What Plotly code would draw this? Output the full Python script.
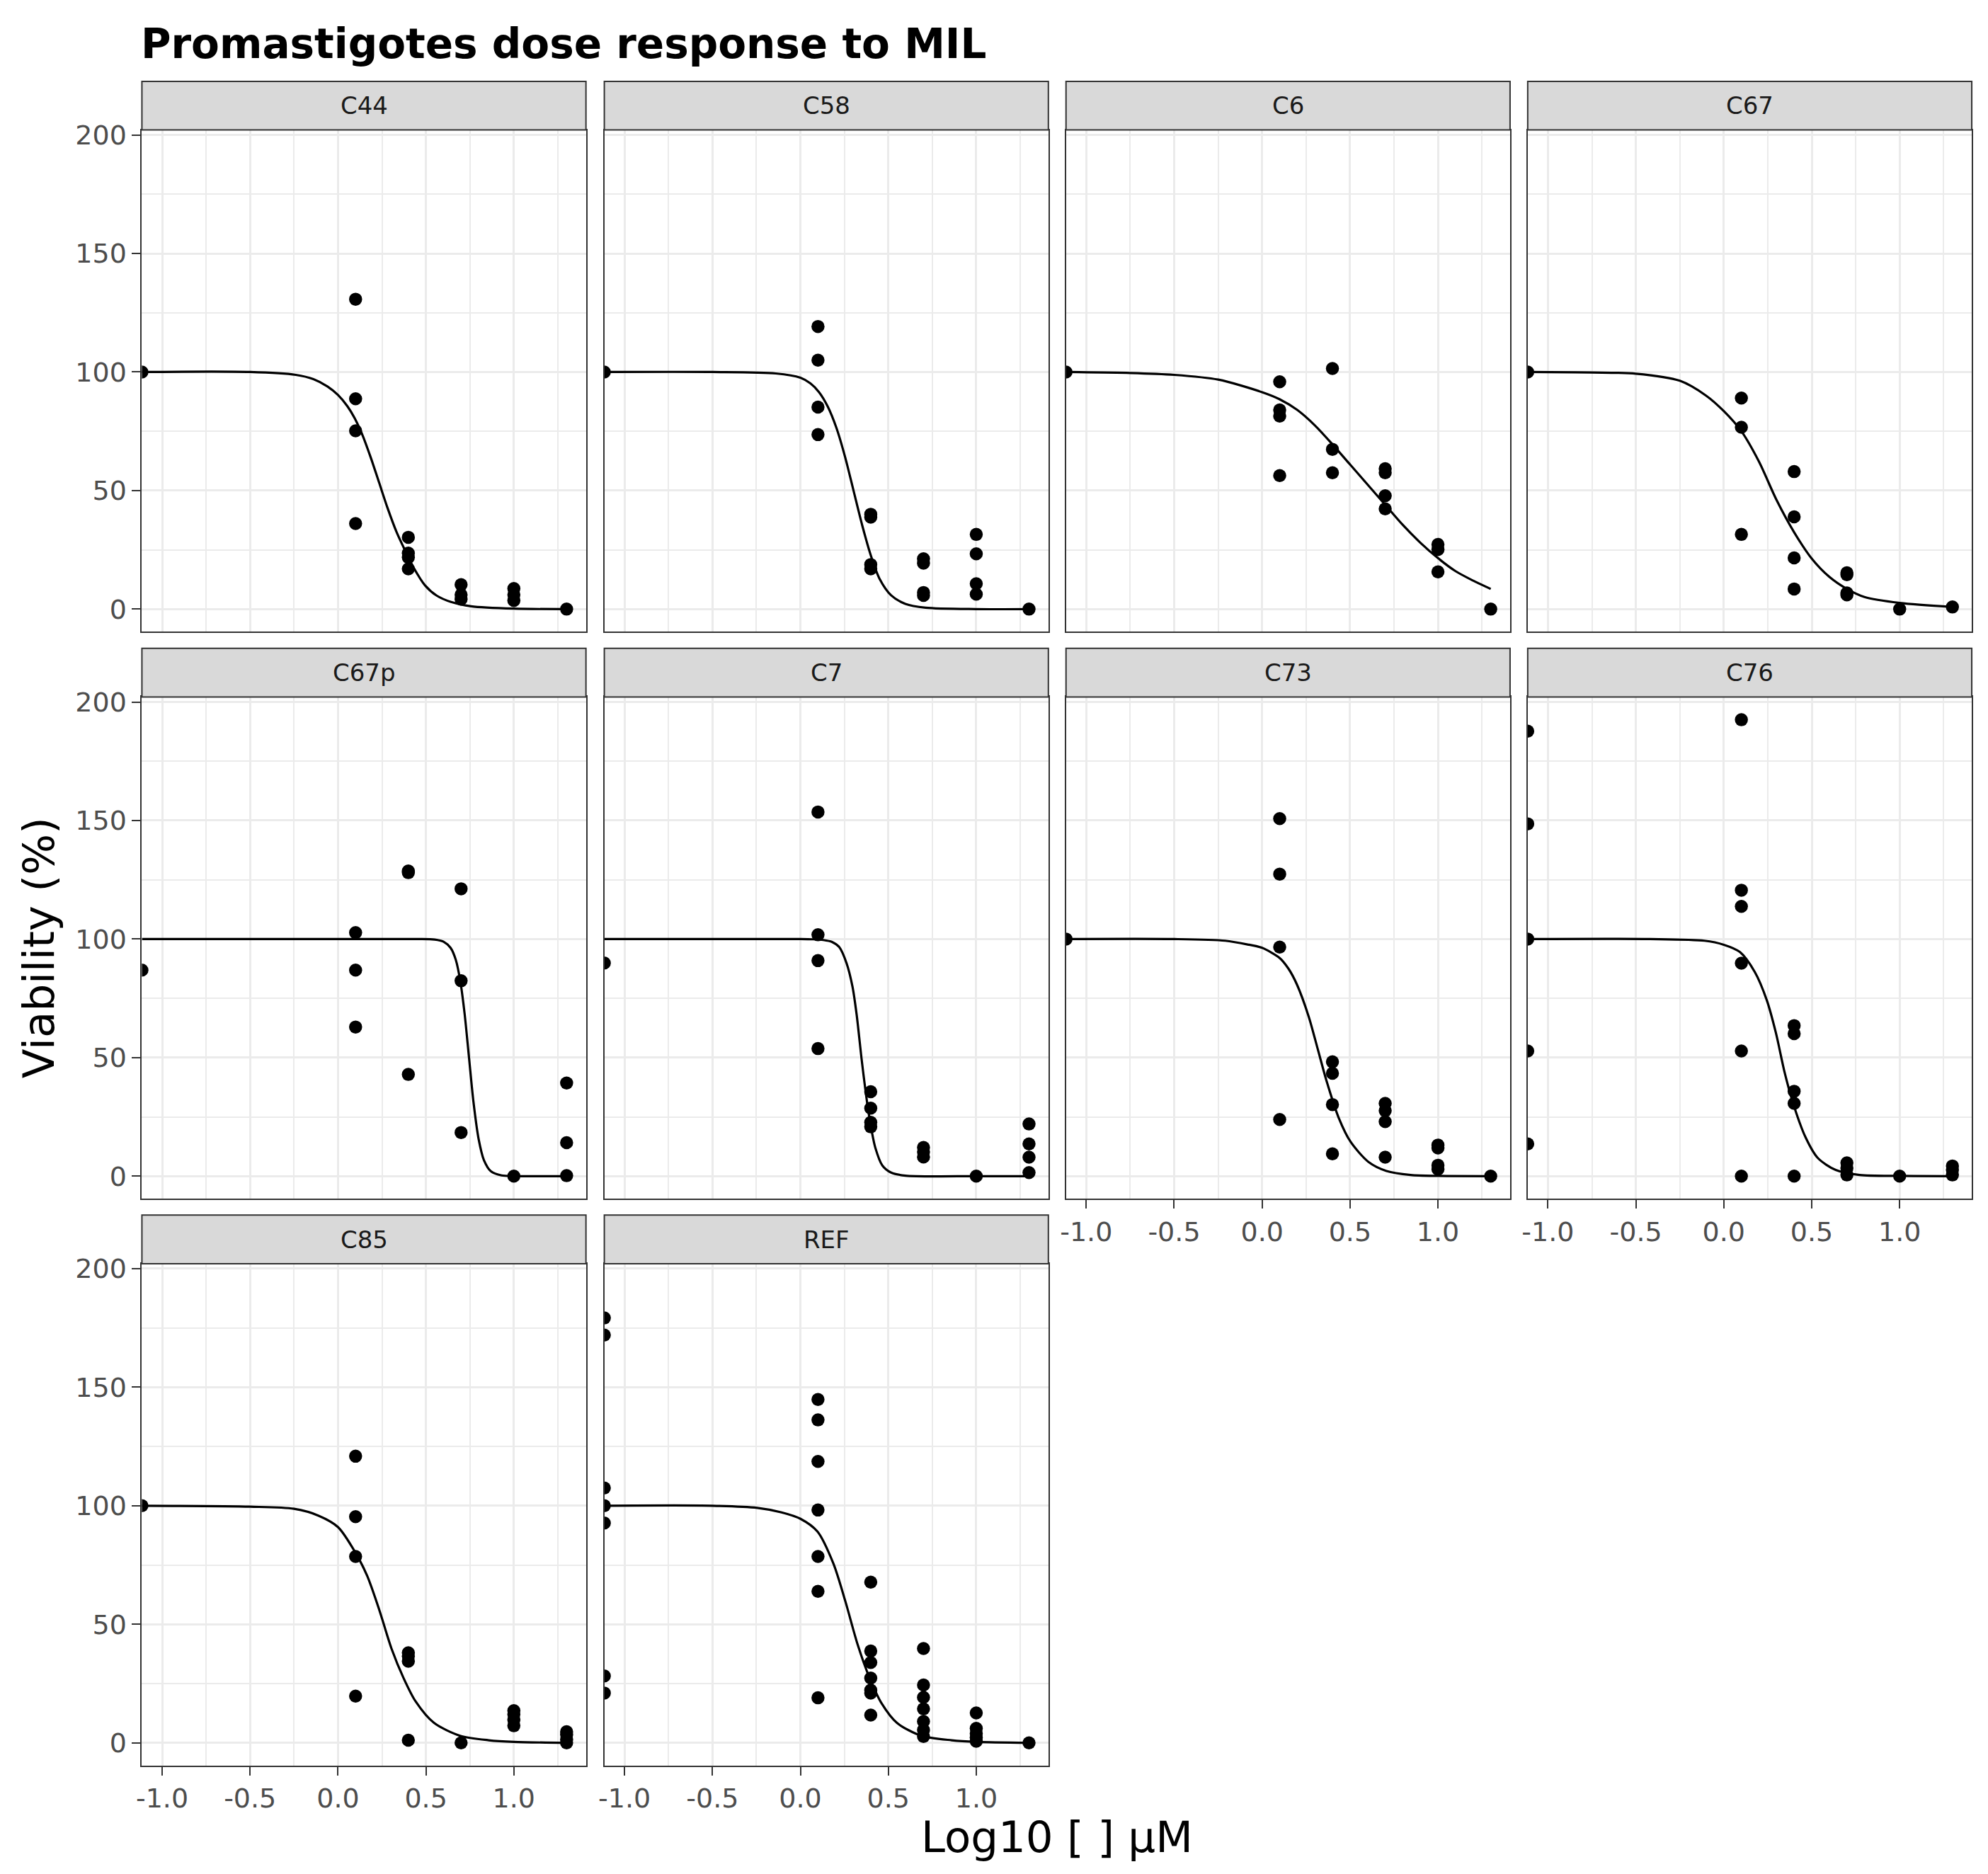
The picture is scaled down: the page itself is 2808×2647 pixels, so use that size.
import plotly.graph_objects as go

# ---- data ----
panels = ["C44", "C58", "C6", "C67", "C67p", "C7", "C73", "C76", "C85", "REF"]
ctrl = -1.115  # untreated control sits on the left border

x_ticks = [-1.0, -0.5, 0.0, 0.5, 1.0]
x_ticktext = ["-1.0", "-0.5", "0.0", "0.5", "1.0"]
x_minor = [-0.75, -0.25, 0.25, 0.75, 1.25]
y_ticks = [0, 50, 100, 150, 200]
y_minor = [25, 75, 125, 175]

c44_dose = [ctrl, 0.1, 0.1, 0.1, 0.1, 0.4, 0.4, 0.4, 0.4, 0.7, 0.7, 0.7, 1.0, 1.0, 1.0, 1.3]
c44_viab = [100, 130.7, 88.7, 75.2, 36.1, 30.3, 23.6, 21.8, 17.0, 10.3, 6.1, 4.2, 8.7, 6.1, 3.6, 0]
c44_fit_x = [ctrl, -0.5, -0.24, -0.14, -0.06, 0.0, 0.054, 0.095, 0.136, 0.185, 0.234, 0.283,
             0.332, 0.381, 0.43, 0.495, 0.561, 0.643, 0.757, 1.0, 1.3]
c44_fit_y = [100, 100, 98.8, 97, 93.9, 90.3, 85.5, 80.5, 74.0, 64.2, 53.3, 42.4,
             32.7, 24.8, 17.5, 10.0, 5.7, 3.0, 1.2, 0.2, 0]

c58_dose = [ctrl, 0.1, 0.1, 0.1, 0.1, 0.4, 0.4, 0.4, 0.4, 0.7, 0.7, 0.7, 0.7, 1.0, 1.0, 1.0, 1.0, 1.3]
c58_viab = [100, 119.2, 105, 85.2, 73.6, 40, 38.8, 18.8, 17, 21.2, 19.4, 7, 5.8, 31.5, 23.3, 10.7, 6.3, 0]
c58_fit_x = [ctrl, -0.5, -0.14, 0.0, 0.057, 0.106, 0.155, 0.205, 0.254, 0.303, 0.352, 0.401,
             0.45, 0.516, 0.597, 0.712, 1.0, 1.3]
c58_fit_y = [100, 100, 99.4, 97.6, 95.2, 91.5, 85.5, 76.4, 64.2, 49.7, 35.2, 22.5,
             12.8, 5.8, 2.2, 0.6, 0, 0]

c6_dose = [ctrl, 0.1, 0.1, 0.1, 0.1, 0.4, 0.4, 0.4, 0.7, 0.7, 0.7, 0.7, 1.0, 1.0, 1.0, 1.3]
c6_viab = [100, 95.9, 84, 81.4, 56.3, 101.5, 67.4, 57.5, 59.2, 57.5, 47.8, 42.3, 27.3, 25.1, 15.7, 0]
c6_fit_x = [ctrl, -0.75, -0.5, -0.25, 0.0, 0.1, 0.2, 0.3, 0.4, 0.5, 0.6, 0.7, 0.8, 0.9, 1.0, 1.1, 1.2, 1.3]
c6_fit_y = [100, 99.6, 98.8, 96.8, 91.5, 88.5, 84, 77.5, 69.5, 61, 52.5, 44, 35.5, 28, 21.5, 16, 12, 8.5]

c67_dose = [ctrl, 0.1, 0.1, 0.1, 0.4, 0.4, 0.4, 0.4, 0.7, 0.7, 0.7, 0.7, 1.0, 1.3]
c67_viab = [100, 89, 76.7, 31.5, 58, 38.9, 21.6, 8.5, 15.3, 14.5, 6.8, 6, 0, 0.9]
c67_fit_x = [ctrl, -0.75, -0.5, -0.25, -0.1, 0.0, 0.1, 0.2, 0.3, 0.4, 0.5, 0.6, 0.7, 0.8, 1.0, 1.3]
c67_fit_y = [100, 99.8, 99.3, 96.3, 90, 83.5, 75, 62.2, 46, 32.4, 21.3, 13.6, 8.5, 5.1, 2.6, 0.9]

c67p_dose = [ctrl, 0.1, 0.1, 0.1, 0.4, 0.4, 0.4, 0.7, 0.7, 0.7, 1.0, 1.3, 1.3, 1.3]
c67p_viab = [86.9, 102.7, 86.9, 62.9, 128.7, 128.0, 42.9, 121.2, 82.4, 18.4, 0, 39.3, 14.1, 0.2]
c67p_fit_x = [ctrl, 0.0, 0.45, 0.55, 0.6, 0.64, 0.67, 0.696, 0.72, 0.745, 0.77, 0.8, 0.83, 0.87, 0.93, 1.0, 1.3]
c67p_fit_y = [100, 100, 100, 99.8, 98.9, 96.3, 91.2, 82, 68.5, 50, 31.5, 15.5, 6.7, 2, 0.3, 0, 0]

c7_dose = [ctrl, 0.1, 0.1, 0.1, 0.1, 0.4, 0.4, 0.4, 0.4, 0.7, 0.7, 0.7, 1.0, 1.3, 1.3, 1.3, 1.3]
c7_viab = [89.9, 153.6, 101.8, 90.9, 53.8, 35.6, 28.7, 22.7, 20.8, 12.1, 10.2, 8.1, 0, 22, 13.6, 8, 1.5]
c7_fit_x = [ctrl, -0.5, 0.0, 0.07, 0.13, 0.18, 0.221, 0.262, 0.296, 0.32, 0.347, 0.372, 0.396, 0.426,
            0.466, 0.516, 0.597, 1.0, 1.3]
c7_fit_y = [100, 100, 100, 99.9, 99.6, 98.8, 96.6, 89.9, 80, 68, 50, 35, 23, 12, 4.5, 1.5, 0.2, 0, 0]

c73_dose = [ctrl, 0.1, 0.1, 0.1, 0.1, 0.4, 0.4, 0.4, 0.4, 0.7, 0.7, 0.7, 0.7, 1.0, 1.0, 1.0, 1.0, 1.3]
c73_viab = [100, 150.8, 127.4, 96.6, 23.9, 48.2, 43.4, 30.2, 9.4, 30.7, 27.6, 23, 8, 13.1, 11.9, 4.6, 2.9, 0]
c73_fit_x = [ctrl, -0.5, -0.21, -0.075, 0.0, 0.1, 0.15, 0.197, 0.265, 0.316, 0.367, 0.435, 0.503,
             0.605, 0.707, 0.844, 1.0, 1.3]
c73_fit_y = [100, 100, 99.3, 97.6, 96.3, 92, 87.5, 81, 67.3, 53.7, 40, 24.7, 14.5, 6, 2.2, 0.5, 0.1, 0]

c76_dose = [ctrl, ctrl, ctrl, ctrl, ctrl, 0.1, 0.1, 0.1, 0.1, 0.1, 0.1, 0.4, 0.4, 0.4, 0.4, 0.4,
            0.7, 0.7, 0.7, 1.0, 1.3, 1.3, 1.3]
c76_viab = [187.7, 148.6, 100, 52.8, 13.6, 192.5, 120.6, 113.8, 89.8, 52.8, 0, 63.5, 60.1, 35.8, 30.7, 0,
            5.6, 3.4, 0.5, 0, 4.3, 2.6, 0.5]
c76_fit_x = [ctrl, -0.42, -0.11, 0.0, 0.092, 0.177, 0.245, 0.296, 0.347, 0.398, 0.466, 0.534,
             0.636, 0.772, 1.0, 1.3]
c76_fit_y = [100, 100, 99.3, 97.6, 94.5, 86, 74.1, 60.5, 43.4, 29.8, 16.2, 7.7, 2.6, 0.5, 0.1, 0]

c85_dose = [ctrl, 0.1, 0.1, 0.1, 0.1, 0.4, 0.4, 0.4, 0.4, 0.7, 1.0, 1.0, 1.0, 1.0, 1.3, 1.3, 1.3, 1.3]
c85_viab = [100, 120.9, 95.4, 78.6, 19.7, 38, 36.6, 34.4, 1.1, 0, 13.6, 12, 9.7, 7.2, 4.7, 3.4, 1.3, 0]
c85_fit_x = [ctrl, -0.5, -0.25, -0.11, 0.0, 0.093, 0.166, 0.235, 0.304, 0.373, 0.442, 0.546,
             0.694, 0.857, 1.0, 1.3]
c85_fit_y = [100, 99.6, 98.7, 95.8, 91, 81, 70.4, 56, 39.8, 27.3, 17.4, 8.4, 3, 1.1, 0.4, 0]

ref_dose = [ctrl] * 7 + [0.1] * 7 + [0.4] * 7 + [0.7] * 7 + [1.0] * 5 + [1.3]
ref_viab = [179.2, 172, 107.5, 100, 92.7, 28.2, 21,
            144.8, 136.2, 118.7, 98.2, 78.6, 63.9, 19,
            67.8, 38.7, 33.9, 27.3, 22.2, 21, 11.7,
            39.8, 24.4, 19.2, 14.3, 9, 5.4, 2.7,
            12.6, 6.1, 3.9, 2.2, 0.7, 0]
ref_fit_x = [ctrl, -0.5, -0.245, -0.107, 0.0, 0.097, 0.187, 0.256, 0.325, 0.394, 0.463, 0.549,
             0.687, 0.86, 1.0, 1.3]
ref_fit_y = [100, 100, 99.1, 97.2, 94.5, 89.1, 75.7, 59.6, 41.6, 27.3, 16.5, 8.4, 3, 1.1, 0.4, 0]

points = {
    "C44": (c44_dose, c44_viab), "C58": (c58_dose, c58_viab), "C6": (c6_dose, c6_viab),
    "C67": (c67_dose, c67_viab), "C67p": (c67p_dose, c67p_viab), "C7": (c7_dose, c7_viab),
    "C73": (c73_dose, c73_viab), "C76": (c76_dose, c76_viab), "C85": (c85_dose, c85_viab),
    "REF": (ref_dose, ref_viab),
}
fits = {
    "C44": (c44_fit_x, c44_fit_y), "C58": (c58_fit_x, c58_fit_y), "C6": (c6_fit_x, c6_fit_y),
    "C67": (c67_fit_x, c67_fit_y), "C67p": (c67p_fit_x, c67p_fit_y), "C7": (c7_fit_x, c7_fit_y),
    "C73": (c73_fit_x, c73_fit_y), "C76": (c76_fit_x, c76_fit_y), "C85": (c85_fit_x, c85_fit_y),
    "REF": (ref_fit_x, ref_fit_y),
}
x_labelled = ["C73", "C76", "C85", "REF"]

# ---- page geometry (pixels) ----
W, H = 2808, 2647
col_left = [193, 848, 1502, 2156]
row_top = [169.5, 975, 1780]
pw, ph, sh = 629, 713, 69

FONT = "DejaVu Sans"
GRID = "#EBEBEB"
DARK = "#333333"


def px(x):
    return x / W


def py(y):
    return 1 - y / H


fig = go.Figure()
layout = {}
shapes = []
annotations = []

for i, name in enumerate(panels):
    r, c = divmod(i, 4)
    n = i + 1
    xa = "x" if n == 1 else "x%d" % n
    ya = "y" if n == 1 else "y%d" % n
    fx, fy = fits[name]
    fig.add_trace(go.Scatter(
        x=fx, y=fy, mode="lines",
        line=dict(color="black", width=3.2, shape="spline", smoothing=0.8),
        xaxis=xa, yaxis=ya, hoverinfo="skip"
    ))
    dx, dy = points[name]
    fig.add_trace(go.Scatter(
        x=dx, y=dy, mode="markers",
        marker=dict(color="black", size=18.5),
        xaxis=xa, yaxis=ya
    ))

    x0 = col_left[c]
    y0 = row_top[r]
    show_x = name in x_labelled
    show_y = c == 0
    layout["xaxis%d" % n] = dict(
        domain=[px(x0), px(x0 + pw)], range=[ctrl, 1.41], anchor=ya,
        tickmode="array", tickvals=x_ticks, ticktext=x_ticktext,
        showticklabels=show_x, ticks="outside" if show_x else "",
        ticklen=12, tickwidth=2, tickcolor=DARK,
        tickfont=dict(family=FONT, size=38, color="#4D4D4D"),
        showgrid=True, gridcolor=GRID, gridwidth=3,
        minor=dict(tickmode="array", tickvals=x_minor, showgrid=True,
                   gridcolor=GRID, gridwidth=1.6),
        zeroline=False, showline=True, mirror=True, linecolor=DARK, linewidth=2,
    )
    layout["yaxis%d" % n] = dict(
        domain=[py(y0 + ph), py(y0)], range=[-9.6, 202.1], anchor=xa,
        tickmode="array", tickvals=y_ticks,
        showticklabels=show_y, ticks="outside" if show_y else "",
        ticklen=12, tickwidth=2, tickcolor=DARK,
        tickfont=dict(family=FONT, size=38, color="#4D4D4D"),
        showgrid=True, gridcolor=GRID, gridwidth=3,
        minor=dict(tickmode="array", tickvals=y_minor, showgrid=True,
                   gridcolor=GRID, gridwidth=1.6),
        zeroline=False, showline=True, mirror=True, linecolor=DARK, linewidth=2,
    )

    # facet strip
    shapes.append(dict(
        type="rect", xref="paper", yref="paper",
        x0=px(x0), x1=px(x0 + pw), y0=py(y0), y1=py(y0 - sh),
        fillcolor="#D9D9D9", line=dict(color=DARK, width=2)
    ))
    annotations.append(dict(
        text=name, xref="paper", yref="paper",
        x=px(x0 + pw / 2), y=py(y0 - sh / 2), xanchor="center", yanchor="middle",
        showarrow=False, font=dict(family=FONT, size=34, color="#1A1A1A")
    ))

annotations.append(dict(
    text="<b>Promastigotes dose response to MIL</b>", xref="paper", yref="paper",
    x=px(190), y=py(47), xanchor="left", yanchor="middle", showarrow=False,
    font=dict(family=FONT, size=58, color="black")
))
annotations.append(dict(
    text="Viability (%)", xref="paper", yref="paper", textangle=-90,
    x=px(47), y=py(1331), xanchor="center", yanchor="middle", showarrow=False,
    font=dict(family=FONT, size=61, color="black")
))
annotations.append(dict(
    text="Log10 [ ] µM", xref="paper", yref="paper",
    x=px(1489), y=py(2594), xanchor="center", yanchor="middle", showarrow=False,
    font=dict(family=FONT, size=61, color="black")
))

fig.update_layout(
    width=W, height=H,
    margin=dict(l=0, r=0, t=0, b=0),
    paper_bgcolor="white", plot_bgcolor="white",
    showlegend=False,
    shapes=shapes, annotations=annotations,
    **layout
)

# drop the browser's default page margin so the figure sits at the window origin
fig.write_html("out.html", config={"displayModeBar": False},
               post_script="document.body.style.margin='0px';")
